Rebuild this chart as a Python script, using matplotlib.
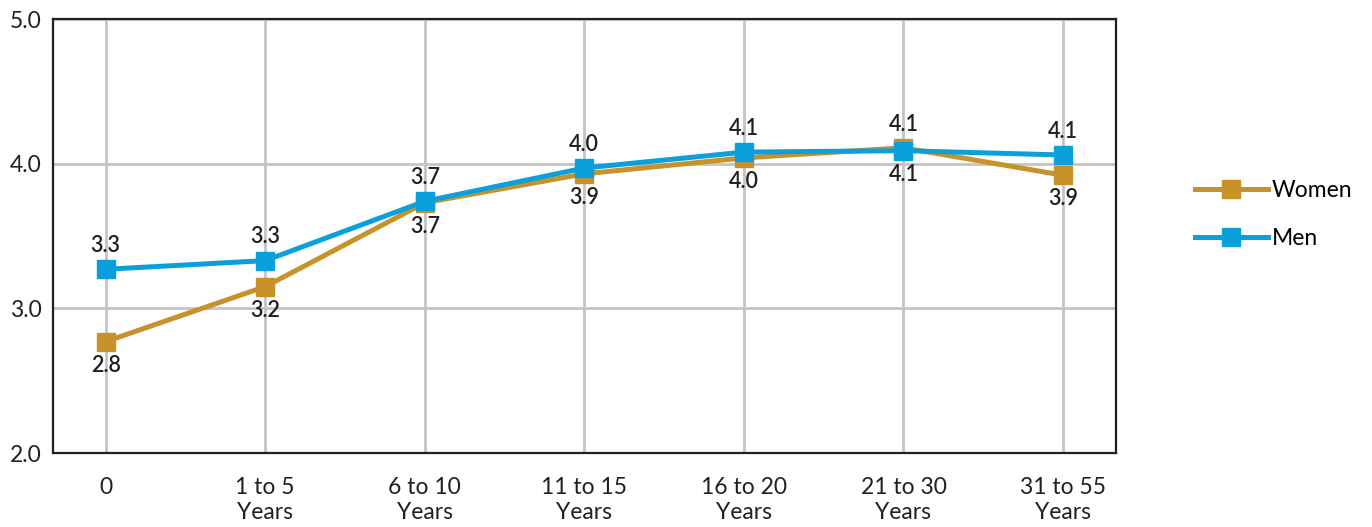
import numpy as np
import matplotlib.pyplot as plt

plt.rcParams['font.family'] = ['Lato', 'DejaVu Sans']

categories = ['0', '1 to 5\nYears', '6 to 10\nYears', '11 to 15\nYears',
              '16 to 20\nYears', '21 to 30\nYears', '31 to 55\nYears']
women = [2.77, 3.15, 3.73, 3.93, 4.04, 4.11, 3.92]
men = [3.27, 3.33, 3.74, 3.97, 4.08, 4.09, 4.06]
women_labels = ['2.8', '3.2', '3.7', '3.9', '4.0', '4.1', '3.9']
men_labels = ['3.3', '3.3', '3.7', '4.0', '4.1', '4.1', '4.1']
# label above (+1) or below (-1) the marker
women_side = [-1, -1, -1, -1, -1, 1, -1]
men_side = [1, 1, 1, 1, 1, -1, 1]

gold = '#C8922A'
blue = '#0BA0DC'
dark = '#231F20'

fig = plt.figure(figsize=(13.72, 5.27), dpi=100)
ax = fig.add_axes([0.0386, 0.1404, 0.7746, 0.8235])

x = np.arange(len(categories))
ax.plot(x, women, color=gold, lw=3.6, marker='s', ms=13, label='Women', zorder=3)
ax.plot(x, men, color=blue, lw=3.6, marker='s', ms=13, label='Men', zorder=4)

for xi, v, lab, s in zip(x, women, women_labels, women_side):
    ax.annotate(lab, (xi, v), xytext=(0, 17 * s), textcoords='offset points',
                ha='center', va='center', fontsize=15.5, color=dark,
                fontweight='semibold')
for xi, v, lab, s in zip(x, men, men_labels, men_side):
    ax.annotate(lab, (xi, v), xytext=(0, 17 * s), textcoords='offset points',
                ha='center', va='center', fontsize=15.5, color=dark,
                fontweight='semibold')

ax.set_xlim(-0.33, 6.33)
ax.set_ylim(2.0, 5.0)
ax.set_yticks([2.0, 3.0, 4.0, 5.0])
ax.set_yticklabels(['2.0', '3.0', '4.0', '5.0'])
ax.set_xticks(x)
ax.set_xticklabels(categories, linespacing=1.25)
ax.tick_params(length=0, labelsize=16.5, labelcolor=dark)
ax.tick_params(axis='x', pad=17)
ax.tick_params(axis='y', pad=8)
ax.grid(True, color='#C4C4C6', lw=2)
ax.set_axisbelow(True)
for sp in ax.spines.values():
    sp.set_color(dark)
    sp.set_linewidth(1.6)

ax.legend(loc='center left', bbox_to_anchor=(1.055, 0.55), frameon=False,
          fontsize=16.5, handlelength=3.2, labelspacing=1.2, handletextpad=0.15)

fig.savefig('out.png', dpi=100)
